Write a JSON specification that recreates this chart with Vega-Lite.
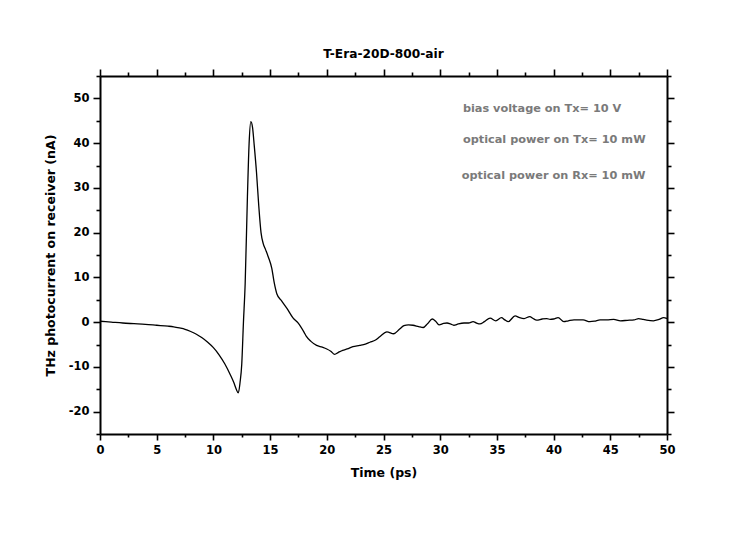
{
  "$schema": "https://vega.github.io/schema/vega-lite/v6.json",
  "autosize": {"type": "none"},
  "padding": {"left": 100, "top": 76, "right": 83, "bottom": 99},
  "width": 567,
  "height": 358,
  "background": "white",
  "config": {
    "view": {"stroke": null},
    "font": "DejaVu Sans",
    "axis": {"grid": false, "domainColor": "black", "domainWidth": 2, "tickColor": "black", "tickWidth": 1.6, "labelFont": "DejaVu Sans", "labelFontWeight": "bold", "labelFontSize": 11.5, "labelColor": "black", "titleFont": "DejaVu Sans", "titleFontWeight": "bold", "titleFontSize": 12.5, "titleColor": "black"}
  },
  "title": {"text": "T-Era-20D-800-air", "font": "DejaVu Sans", "fontSize": 12.2, "fontWeight": "bold", "color": "black", "offset": 8, "anchor": "middle"},
  "datasets": {
    "trace": [
      {"t": 0, "i": 0.2}, {"t": 1, "i": 0.0}, {"t": 2, "i": -0.2}, {"t": 3, "i": -0.35}, {"t": 4, "i": -0.5},
      {"t": 5, "i": -0.7}, {"t": 6, "i": -0.9}, {"t": 6.5, "i": -1.05}, {"t": 7, "i": -1.3}, {"t": 7.5, "i": -1.6},
      {"t": 8, "i": -2.1}, {"t": 8.5, "i": -2.7}, {"t": 9, "i": -3.5}, {"t": 9.5, "i": -4.5}, {"t": 10, "i": -5.7},
      {"t": 10.5, "i": -7.3}, {"t": 11, "i": -9.3}, {"t": 11.5, "i": -11.8}, {"t": 11.8, "i": -13.5}, {"t": 12.0, "i": -14.9},
      {"t": 12.2, "i": -15.8}, {"t": 12.35, "i": -13.5}, {"t": 12.5, "i": -9.4}, {"t": 12.65, "i": 0.0}, {"t": 12.8, "i": 8.5},
      {"t": 13.0, "i": 28.0}, {"t": 13.15, "i": 40.0}, {"t": 13.3, "i": 44.8}, {"t": 13.45, "i": 43.5}, {"t": 13.6, "i": 39.5},
      {"t": 13.8, "i": 33.5}, {"t": 14.0, "i": 26.0}, {"t": 14.2, "i": 20.0}, {"t": 14.4, "i": 17.5}, {"t": 14.6, "i": 16.2},
      {"t": 14.85, "i": 14.5}, {"t": 15.15, "i": 12.0}, {"t": 15.35, "i": 9.0}, {"t": 15.6, "i": 6.3}, {"t": 16.0, "i": 4.8},
      {"t": 16.5, "i": 3.0}, {"t": 17.0, "i": 1.0}, {"t": 17.5, "i": -0.3}, {"t": 18.0, "i": -2.3}, {"t": 18.2, "i": -3.2},
      {"t": 18.6, "i": -4.3}, {"t": 19.1, "i": -5.2}, {"t": 19.6, "i": -5.6}, {"t": 20.0, "i": -6.0}, {"t": 20.35, "i": -6.5},
      {"t": 20.7, "i": -7.2}, {"t": 21.0, "i": -6.8}, {"t": 21.4, "i": -6.3}, {"t": 21.8, "i": -6.0}, {"t": 22.3, "i": -5.5},
      {"t": 22.9, "i": -5.2}, {"t": 23.4, "i": -4.9}, {"t": 23.8, "i": -4.5}, {"t": 24.3, "i": -4.0}, {"t": 24.7, "i": -3.2},
      {"t": 25.3, "i": -2.2}, {"t": 25.9, "i": -2.6}, {"t": 26.4, "i": -1.6}, {"t": 26.8, "i": -0.8}, {"t": 27.2, "i": -0.6},
      {"t": 27.6, "i": -0.7}, {"t": 28.1, "i": -1.0}, {"t": 28.5, "i": -1.2}, {"t": 28.9, "i": -0.3}, {"t": 29.3, "i": 0.7},
      {"t": 29.6, "i": 0.2}, {"t": 29.9, "i": -0.6}, {"t": 30.3, "i": -0.3}, {"t": 30.6, "i": -0.2}, {"t": 30.9, "i": -0.4},
      {"t": 31.2, "i": -0.7}, {"t": 31.6, "i": -0.4}, {"t": 32.1, "i": -0.2}, {"t": 32.5, "i": -0.2}, {"t": 32.9, "i": 0.1},
      {"t": 33.2, "i": -0.2}, {"t": 33.5, "i": -0.4}, {"t": 33.9, "i": 0.1}, {"t": 34.4, "i": 0.9}, {"t": 34.9, "i": 0.3},
      {"t": 35.4, "i": 1.0}, {"t": 35.7, "i": 0.5}, {"t": 36.0, "i": 0.1}, {"t": 36.6, "i": 1.4}, {"t": 37.0, "i": 1.0},
      {"t": 37.4, "i": 0.8}, {"t": 37.9, "i": 1.25}, {"t": 38.2, "i": 0.8}, {"t": 38.5, "i": 0.45}, {"t": 39.0, "i": 0.7},
      {"t": 39.4, "i": 0.8}, {"t": 39.7, "i": 0.6}, {"t": 40.0, "i": 0.7}, {"t": 40.4, "i": 1.0}, {"t": 40.9, "i": 0.1},
      {"t": 41.3, "i": 0.3}, {"t": 41.8, "i": 0.5}, {"t": 42.6, "i": 0.5}, {"t": 43.2, "i": 0.1}, {"t": 43.6, "i": 0.2},
      {"t": 44.1, "i": 0.5}, {"t": 44.7, "i": 0.5}, {"t": 45.3, "i": 0.6}, {"t": 45.9, "i": 0.3}, {"t": 46.5, "i": 0.4},
      {"t": 47.1, "i": 0.5}, {"t": 47.5, "i": 0.8}, {"t": 47.9, "i": 0.6}, {"t": 48.2, "i": 0.45}, {"t": 48.8, "i": 0.3},
      {"t": 49.3, "i": 0.6}, {"t": 49.7, "i": 1.0}, {"t": 50, "i": 0.8}
    ],
    "notes": [
      {"t": 32.0, "i": 47.6, "label": "bias voltage on Tx= 10 V"},
      {"t": 32.0, "i": 40.7, "label": "optical power on Tx= 10 mW"},
      {"t": 31.9, "i": 32.6, "label": "optical power on Rx= 10 mW"}
    ]
  },
  "resolve": {"axis": {"x": "independent", "y": "independent"}},
  "layer": [
    {
      "data": {"name": "trace"},
      "mark": {"type": "line", "color": "black", "strokeWidth": 1.3, "clip": true, "interpolate": "monotone"},
      "encoding": {
        "x": {"field": "t", "type": "quantitative", "scale": {"domain": [0, 50], "nice": false, "zero": false},
          "axis": {"orient": "bottom", "title": "Time (ps)", "values": [0, 2.5, 5, 7.5, 10, 12.5, 15, 17.5, 20, 22.5, 25, 27.5, 30, 32.5, 35, 37.5, 40, 42.5, 45, 47.5, 50],
            "labelExpr": "datum.value % 5 === 0 ? datum.label : ''",
            "tickSize": {"condition": {"test": "datum.value % 5 === 0", "value": 6}, "value": 3},
            "labelPadding": 4, "titlePadding": 11, "labelFlush": false}},
        "y": {"field": "i", "type": "quantitative", "scale": {"domain": [-25, 55], "nice": false, "zero": false},
          "axis": {"orient": "left", "title": "THz photocurrent on receiver (nA)", "values": [-25, -20, -15, -10, -5, 0, 5, 10, 15, 20, 25, 30, 35, 40, 45, 50, 55],
            "labelExpr": "datum.value % 10 === 0 ? (datum.value < 0 ? '-' + abs(datum.value) : '' + datum.value) : ''",
            "tickSize": {"condition": {"test": "datum.value % 10 === 0", "value": 7}, "value": 4},
            "labelPadding": 4, "titlePadding": 11, "labelFlush": false}}
      }
    },
    {
      "data": {"name": "notes"},
      "mark": {"type": "text", "align": "left", "baseline": "middle", "font": "DejaVu Sans", "fontWeight": "bold", "fontSize": 11.3, "color": "#7a7a7a"},
      "encoding": {
        "x": {"field": "t", "type": "quantitative", "scale": {"domain": [0, 50], "nice": false, "zero": false},
          "axis": {"orient": "top", "title": null, "labels": false, "values": [0, 2.5, 5, 7.5, 10, 12.5, 15, 17.5, 20, 22.5, 25, 27.5, 30, 32.5, 35, 37.5, 40, 42.5, 45, 47.5, 50],
            "tickSize": {"condition": {"test": "datum.value % 5 === 0", "value": 7}, "value": 4}}},
        "y": {"field": "i", "type": "quantitative", "scale": {"domain": [-25, 55], "nice": false, "zero": false},
          "axis": {"orient": "right", "title": null, "labels": false, "values": [-25, -20, -15, -10, -5, 0, 5, 10, 15, 20, 25, 30, 35, 40, 45, 50, 55],
            "tickSize": {"condition": {"test": "datum.value % 10 === 0", "value": 7}, "value": 4}}},
        "text": {"field": "label"}
      }
    }
  ]
}
